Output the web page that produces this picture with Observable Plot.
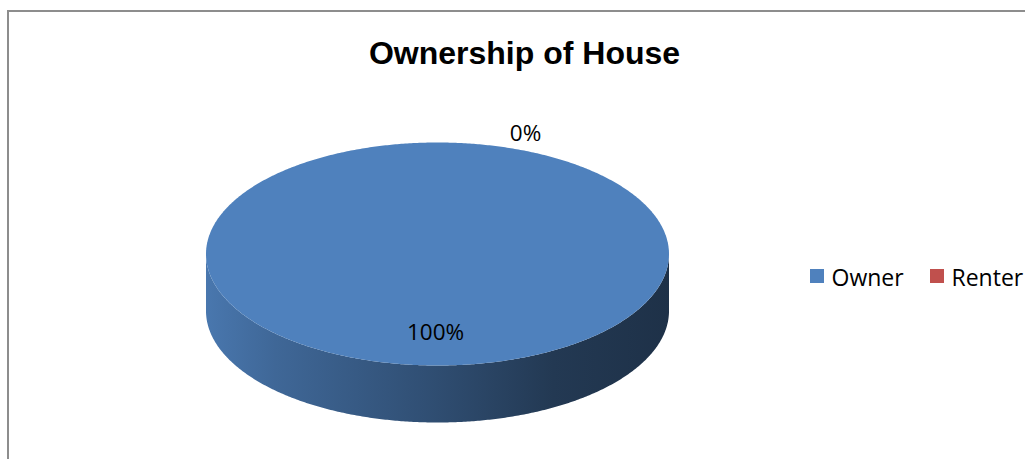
<!DOCTYPE html>
<html><head><meta charset="utf-8">
<script src="https://cdn.jsdelivr.net/npm/d3@7"></script>
<script src="https://cdn.jsdelivr.net/npm/@observablehq/plot@0.6"></script>
<style>
html,body{margin:0;padding:0;background:#fff;overflow:hidden}
#wrap{position:relative;width:1025px;height:459px;overflow:hidden}
#frame{position:absolute;left:7px;top:10px;width:1100px;height:500px;border:2px solid #8d8d8d}
#chart{position:absolute;left:0;top:0}
</style></head><body>
<div id="wrap"><div id="frame"></div><div id="chart"></div></div>
<script>
// ---- data ----
const title = "Ownership of House";
const categories = ["Owner", "Renter"];
const values = [100, 0];
const colors = ["#4f81bd", "#c0504d"];

// ---- layout ----
const W = 1025, H = 459;
const cx = 437, cy = 253.5, rx = 231.5, ry = 111.5, depth = 57;
const total = d3.sum(values);
const toRad = Math.PI / 180;
const pt = (a, dy = 0) => ({x: cx + rx * Math.sin(a * toRad), y: cy - ry * Math.cos(a * toRad) + dy});

let acc = 0;
const slices = categories.map((cat, i) => {
  const a0 = acc / total * 360;
  acc += values[i];
  const a1 = acc / total * 360;
  const pct = Math.round(values[i] / total * 100) + "%";
  return {cat, i, a0, a1, value: values[i], pct};
});

function arc(a0, a1, dy = 0) {
  const n = Math.max(2, Math.ceil((a1 - a0) * 2));
  return d3.range(n + 1).map(k => pt(a0 + (a1 - a0) * k / n, dy));
}

const topPts = slices.filter(s => s.a1 > s.a0).flatMap(s => {
  const pts = (s.a1 - s.a0 >= 360) ? arc(s.a0, s.a1) : [{x: cx, y: cy}, ...arc(s.a0, s.a1), {x: cx, y: cy}];
  return pts.map(p => ({...p, cat: s.cat}));
});

const sideMarks = slices.flatMap(s => {
  const b0 = Math.max(s.a0, 90), b1 = Math.min(s.a1, 270);
  if (b1 <= b0) return [];
  const pts = [...arc(b0, b1), ...arc(b0, b1, depth).reverse()];
  return [Plot.line(pts, {x: "x", y: "y", fill: `url(#side-grad-${s.i})`, stroke: "none", curve: "linear"})];
});

const labelPts = slices.map(s => {
  const m = (s.a0 + s.a1) / 2;
  const outside = s.value === 0;
  const f = outside ? 1.08 : 0.71;
  const p = {x: cx + rx * f * Math.sin(m * toRad), y: cy - ry * f * Math.cos(m * toRad)};
  return {...p, x: p.x + (outside ? 88 : -2), text: s.pct};
});

const legendX0 = 810, legendStep = 120, legendY = 276;
const legend = categories.map((cat, i) => ({cat, x: legendX0 + i * legendStep}));

const chart = Plot.plot({
  width: W, height: H,
  margin: 0,
  x: {domain: [0, W], range: [0, W], axis: null},
  y: {domain: [0, H], range: [0, H], axis: null},
  color: {domain: categories, range: colors},
  style: {background: "transparent", overflow: "visible"},
  marks: [
    ...sideMarks,
    Plot.line(topPts, {x: "x", y: "y", z: "cat", fill: "cat", stroke: "none", curve: "linear"}),
    Plot.text(labelPts, {x: "x", y: "y", text: "text", fontSize: 22.5, fontFamily: "Open Sans", fill: "#000"}),
    Plot.text([title], {x: () => 524, y: () => 63, text: d => d, lineAnchor: "bottom", fontSize: 32, fontWeight: "bold", fontFamily: "Liberation Sans", fill: "#000"}),
    Plot.rect(legend, {x1: "x", x2: d => d.x + 14, y1: () => legendY - 7, y2: () => legendY + 7, fill: "cat"}),
    Plot.text(legend, {x: d => d.x + 21, y: () => legendY + 9, text: "cat", textAnchor: "start", lineAnchor: "bottom", fontSize: 23, fontFamily: "Open Sans", fill: "#000"})
  ]
});

const svgEl = chart.tagName.toLowerCase() === "svg" ? chart : chart.querySelector("svg");
const defs = d3.select(svgEl).insert("defs", ":first-child");
slices.forEach(s => {
  const base = d3.color(colors[s.i]);
  const g = defs.append("linearGradient").attr("id", `side-grad-${s.i}`)
    .attr("x1", 0).attr("x2", 1).attr("y1", 0).attr("y2", 0);
  [[0, 0.92], [0.15, 0.8], [0.5, 0.6], [0.75, 0.44], [1, 0.38]].forEach(([o, k]) => {
    g.append("stop").attr("offset", o).attr("stop-color", d3.rgb(base.r * k, base.g * k, base.b * k).formatHex());
  });
});
document.getElementById("chart").appendChild(chart);
</script>
</body></html>
